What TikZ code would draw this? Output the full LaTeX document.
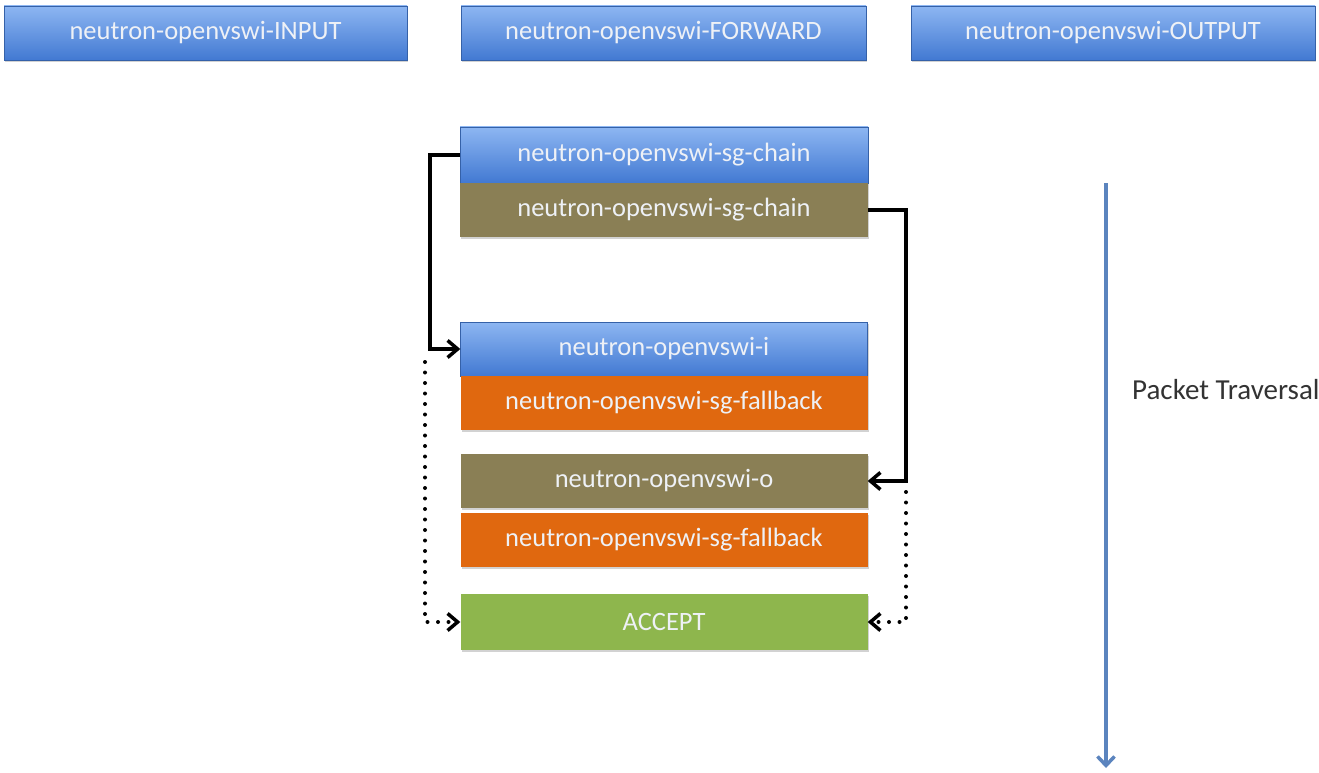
\documentclass[tikz,border=0pt]{standalone}
\usepackage{fontspec}
\setmainfont{Carlito}
\usetikzlibrary{arrows.meta,shadows}
\definecolor{bluetop}{HTML}{8DB6F2}
\definecolor{bluebot}{HTML}{4279D2}
\definecolor{olivec}{HTML}{8A7F55}
\definecolor{orangec}{HTML}{E0680F}
\definecolor{greenc}{HTML}{8EB64D}
\definecolor{arrowblue}{HTML}{5B84BE}
\definecolor{txt}{HTML}{EEF1F6}
\tikzset{
  box/.style={rectangle, minimum height=54pt, inner sep=0pt, text=txt,
    font=\fontsize{26.5}{30}\selectfont, drop shadow={shadow xshift=1pt, shadow yshift=-2pt, opacity=0.35}},
  bluebox/.style={box, top color=bluetop, bottom color=bluebot, draw=bluebot!80!black, line width=0.4pt},
  olivebox/.style={box, fill=olivec},
  orangebox/.style={box, fill=orangec},
  greenbox/.style={box, fill=greenc},
  tipb/.style={-{Straight Barb[length=10pt,width=17pt,line width=3.5pt]}},
  conn/.style={draw=black, line width=3.5pt, tipb},
  dconn/.style={draw=black, line width=4pt, line cap=round, dash pattern=on 0pt off 10.5pt, tipb},
}
\begin{document}
\begin{tikzpicture}[x=1pt,y=-1pt]
\useasboundingbox (0,0) rectangle (1319,773);
\fill[white] (0,0) rectangle (1319,773);
\node[bluebox, minimum width=403pt] (input) at (205.5,33) {neutron-openvswi-INPUT};
\node[bluebox, minimum width=405pt] (forward) at (663.5,33) {neutron-openvswi-FORWARD};
\node[bluebox, minimum width=404pt] (output) at (1113,33) {neutron-openvswi-OUTPUT};
\node[bluebox, minimum width=408pt, minimum height=56pt] (sgchainA) at (664,155) {neutron-openvswi-sg-chain};
\node[olivebox, minimum width=408pt] (sgchainB) at (664,210) {neutron-openvswi-sg-chain};
\node[bluebox, minimum width=407pt] (ichain) at (664,349) {neutron-openvswi-i};
\node[orangebox, minimum width=407pt] (fallA) at (664,403) {neutron-openvswi-sg-fallback};
\node[olivebox, minimum width=407pt] (ochain) at (664,481) {neutron-openvswi-o};
\node[orangebox, minimum width=407pt] (fallB) at (664,540) {neutron-openvswi-sg-fallback};
\node[greenbox, minimum width=407pt, minimum height=56pt] (accept) at (664,622) {ACCEPT};
\coordinate (dl) at (425,362);
\coordinate (dr) at (906,492);
\draw[conn] (sgchainA.west) -- ++(-30,0) |- (ichain.west);
\draw[conn] (sgchainB.east) -- (906,210) |- (ochain.east);
\draw[dconn] (dl) |- (accept.west);
\draw[dconn] (dr) |- (accept.east);
\coordinate (ptop) at (1106,183);
\coordinate (pbot) at (1106,768);
\draw[draw=arrowblue, line width=3.5pt, -{Straight Barb[length=9pt,width=17pt,line width=3.5pt]}] (ptop) -- (pbot);
\node[anchor=west, text=black!80, font=\fontsize{29}{34}\selectfont, inner sep=0pt] (trav) at (1132,390) {Packet Traversal};
\end{tikzpicture}
\end{document}
